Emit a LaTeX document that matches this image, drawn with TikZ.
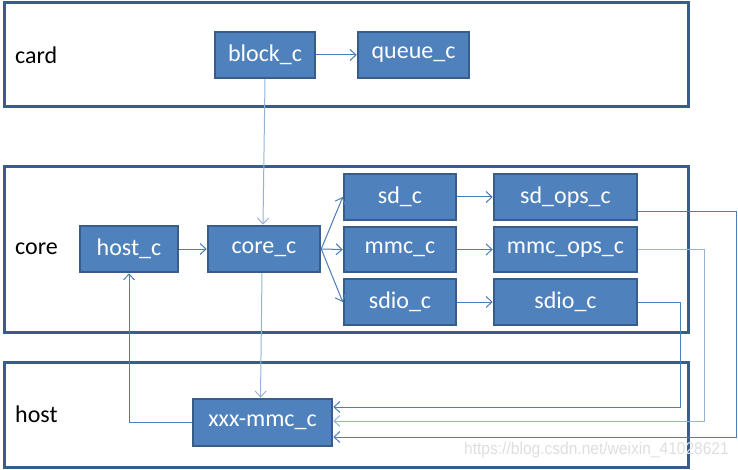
\documentclass[tikz,border=0pt]{standalone}
\usepackage{fontspec}
\setmainfont{Carlito}
\newfontfamily\wmfont{Liberation Sans}
\usetikzlibrary{arrows.meta}
\definecolor{boxfill}{HTML}{4F81BD}
\definecolor{boxline}{HTML}{385D8A}
\definecolor{conn}{HTML}{4A7EBB}
\definecolor{connlight}{HTML}{95B3D7}
\definecolor{wm}{HTML}{DEDEDE}
\tikzset{
  frame/.style={draw=boxline, line width=3pt},
  cbox/.style={draw=boxline, fill=boxfill, line width=2.5pt, text=white,
    font=\fontsize{24}{28}\selectfont, inner sep=0pt, minimum height=46pt},
  lbl/.style={anchor=west, font=\fontsize{24}{28}\selectfont, inner sep=0pt},
  conn/.style={draw=conn, line width=1pt, -{Straight Barb[length=6pt,width=11pt]}},
  connl/.style={conn, draw=connlight},
}
\begin{document}
\begin{tikzpicture}[x=1pt,y=-1pt]
\useasboundingbox (0,0) rectangle (738,470);
% frames
\draw[frame] (4,3) rectangle (688,107);
\draw[frame] (4,167) rectangle (688,332);
\draw[frame] (4,362) rectangle (688,467);
\node[lbl] (lcard) at (15,55) {card};
\node[lbl] (lcore) at (15,249) {core};
\node[lbl] (lhost) at (15,414) {host};
% boxes
\node[cbox, minimum width=100pt] (block) at (265,55) {block\_c};
\node[cbox, minimum width=111pt] (queue) at (413.5,55) {queue\_c};
\node[cbox, minimum width=98pt] (hostc) at (129,249) {host\_c};
\node[cbox, minimum width=112pt] (corec) at (264,249) {core\_c};
\node[cbox, minimum width=112pt] (sdc) at (400,197) {sd\_c};
\node[cbox, minimum width=112pt, minimum height=45pt] (mmcc) at (400,249.5) {mmc\_c};
\node[cbox, minimum width=112pt] (sdioc) at (400,302) {sdio\_c};
\node[cbox, minimum width=143pt] (sdops) at (565.5,197) {sd\_ops\_c};
\node[cbox, minimum width=143pt, minimum height=45pt] (mmcops) at (565.5,249.5) {mmc\_ops\_c};
\node[cbox, minimum width=143pt] (sdioops) at (565.5,302) {sdio\_c};
\node[cbox, minimum width=139pt, minimum height=47pt] (xxx) at (262.5,422.5) {xxx-mmc\_c};
% watermark
\node[anchor=east, text=wm, inner sep=0pt, font=\wmfont\fontsize{17}{19}\selectfont, xscale=0.915, transform shape] (wmark) at (729,450) {https://blog.csdn.net/weixin\_41028621};
% coordinates
\coordinate (r1) at (736,437);
\coordinate (r2) at (704,421);
\coordinate (r3) at (680,407);
% connectors
\draw[conn] (block.east) -- (queue.west);
\draw[connl] (block.south) -- ([xshift=-1pt]corec.north);
\draw[conn] (hostc.east) -- (corec.west);
\draw[conn] (corec.east) -- (sdc.west);
\draw[conn] (corec.east) -- (mmcc.west);
\draw[conn] (corec.east) -- (sdioc.west);
\draw[conn] (sdc.east) -- (sdops.west);
\draw[conn] (mmcc.east) -- (mmcops.west);
\draw[conn] (sdioc.east) -- (sdioops.west);
\draw[connl] ([xshift=-2pt]corec.south) -- ([xshift=-2pt]xxx.north);
\draw[conn] (xxx.west) -| (hostc.south);
\draw[conn] ([yshift=-15pt]sdops.east) -| (r1) -- (xxx.east |- r1);
\draw[connl] (mmcops.east) -| (r2) -- (xxx.east |- r2);
\draw[conn] (sdioops.east) -| (r3) -- (xxx.east |- r3);
\end{tikzpicture}
\end{document}
